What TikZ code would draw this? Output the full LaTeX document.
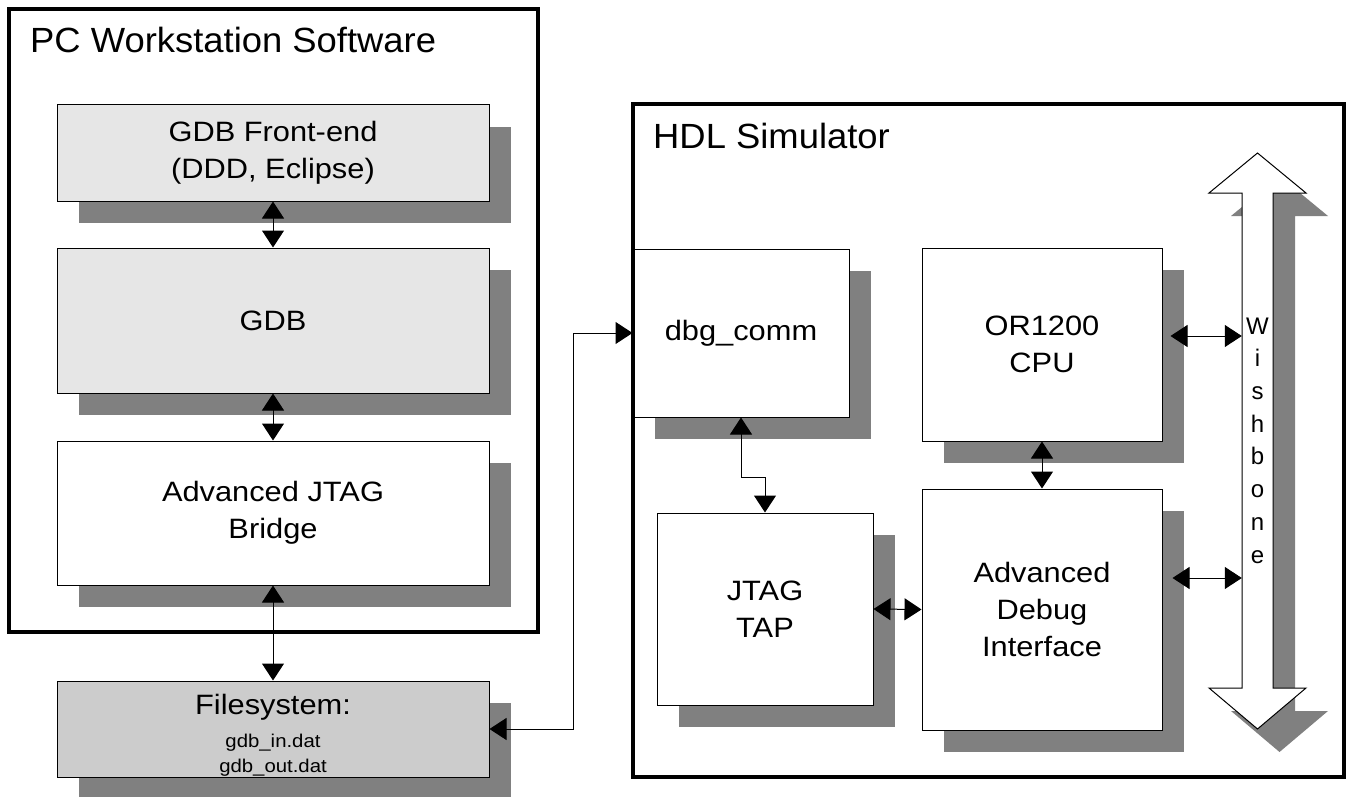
\documentclass[tikz,border=0pt]{standalone}
\usepackage{fontspec}
\setmainfont{Liberation Sans}
\newfontfamily\boxfont{Liberation Sans}[FakeStretch=1.1]
\newfontfamily\titlefont{Liberation Sans}[FakeStretch=1.04]
\usetikzlibrary{arrows.meta,shadows}

\definecolor{shadowgray}{HTML}{808080}
\definecolor{lightfill}{HTML}{E6E6E6}
\definecolor{fsfill}{HTML}{CCCCCC}
\newcommand{\smallfs}{\fontsize{18.5}{25}\selectfont}

\tikzset{
    block/.style={draw, line width=1pt, fill=white, align=center, inner sep=0pt,
        font=\boxfont\fontsize{28}{37}\selectfont,
        general shadow={fill=shadowgray, shadow xshift=22pt, shadow yshift=-22pt}},
    frame/.style={draw, line width=3.5pt, inner sep=0pt},
    heading/.style={anchor=base west, inner sep=0pt,
        font=\titlefont\fontsize{35}{42}\selectfont},
    biarrow/.style={{Triangle[length=17pt,width=22pt]}-{Triangle[length=17pt,width=22pt]},
        line width=1pt}
}

\begin{document}
\begin{tikzpicture}[x=1pt, y=-1pt]
    \useasboundingbox (0,0) rectangle (1347,797);

    % PC side
    \node[block, fill=lightfill, minimum width=432, minimum height=96] (front) at (273,153)
        {GDB Front-end\\(DDD, Eclipse)};
    \node[block, fill=lightfill, minimum width=432, minimum height=145] (gdb) at (273,320.5) {GDB};
    \node[block, minimum width=432, minimum height=144] (ajb) at (273,513) {Advanced JTAG\\Bridge};
    \node[block, fill=fsfill, minimum width=432, minimum height=96] (fs) at (273,729)
        {\rule{0pt}{32pt}Filesystem:\\[-4pt]\smallfs gdb\_in.dat\\[-12pt]\smallfs gdb\_out.dat};

    % simulator side
    \node[block, minimum width=216, minimum height=168] (dbg) at (741,333) {dbg\_comm};
    \node[block, minimum width=216, minimum height=192] (tap) at (765,609) {JTAG\\TAP};
    \node[block, minimum width=240, minimum height=193] (cpu) at (1042,344.5) {OR1200\\CPU};
    \node[block, minimum width=240, minimum height=241] (adi) at (1042,609.5) {Advanced\\Debug\\Interface};

    % wishbone bus
    \path[fill=shadowgray, shift={(22,23)}] (1257.5,153) -- (1306,193) -- (1273,193) -- (1273,688)
        -- (1306,688) -- (1257.5,729) -- (1209,688) -- (1242,688) -- (1242,193) -- (1209,193) -- cycle;
    \draw[line width=1pt, fill=white] (1257.5,153) -- (1306,193) -- (1273,193) -- (1273,688)
        -- (1306,688) -- (1257.5,729) -- (1209,688) -- (1242,688) -- (1242,193) -- (1209,193) -- cycle;
    \node[align=center, inner sep=0pt, minimum width=31, minimum height=495,
        font=\fontsize{24}{32.7}\selectfont] (wb) at (1257.5,440.5) {W\\i\\s\\h\\b\\o\\n\\e};

    % links
    \draw[biarrow] (front.south) -- (gdb.north);
    \draw[biarrow] (gdb.south) -- (ajb.north);
    \draw[biarrow] (ajb.south) -- (fs.north);
    \coordinate (turn) at (573,729);
    \draw[biarrow] (fs.east) -- (turn) |- (dbg.west);
    \draw[biarrow] (dbg.south) -- ++(0,60) -| (tap.north);
    \draw[biarrow] (tap.east) -- (adi.west);
    \draw[biarrow] (cpu.south) -- (adi.north);
    \draw[biarrow] ([shift={(8,-8.5)}]cpu.east) coordinate (cpuwb) -- (cpuwb -| wb.west);
    \draw[biarrow] ([shift={(10,-31.5)}]adi.east) coordinate (adiwb) -- (adiwb -| wb.west);

    % frames
    \node[frame, minimum width=529, minimum height=623] (pc) at (273.5,320.5) {};
    \node[heading] (pctitle) at (30,53) {PC Workstation Software};
    \node[frame, minimum width=711, minimum height=673] (hdl) at (988.5,440.5) {};
    \node[heading] (hdltitle) at (653,149) {HDL Simulator};
\end{tikzpicture}
\end{document}
